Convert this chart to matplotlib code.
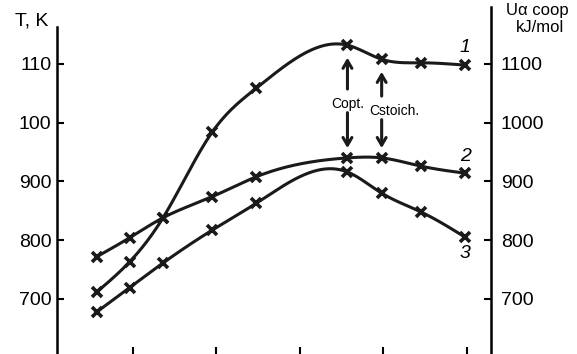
import numpy as np
import matplotlib
matplotlib.use("Agg")
import matplotlib.pyplot as plt

plt.rcParams['font.family'] = ['Liberation Sans', 'DejaVu Sans']

# composition (arbitrary units along x, ticks at 1..5)
x_vals = [0.57, 0.96, 1.36, 1.95, 2.48, 3.57, 3.98, 4.45, 4.98]
curve_1 = [712, 763, 838, 984, 1059, 1132, 1108, 1102, 1098]
curve_2 = [772, 804, 838, 874, 908, 940, 940, 926, 914]
curve_3 = [678, 719, 761, 817, 863, 916, 880, 848, 805]
curve_names = ['1', '2', '3']

x_ticks = [1, 2, 3, 4, 5]
y_ticks = [700, 800, 900, 1000, 1100]
left_labels = ['700', '800', '900', '100', '110']
right_labels = ['700', '800', '900', '1000', '1100']

# vertical markers: (index of point, label, text offset in points)
markers = [(5, 'Copt.', 0), (6, 'Cstoich.', 9)]


def natural_spline(x, y, n=300):
    """Smooth curve through the points (natural cubic spline)."""
    x = np.asarray(x, float)
    y = np.asarray(y, float)
    k = len(x)
    h = np.diff(x)
    A = np.zeros((k, k))
    b = np.zeros(k)
    A[0, 0] = A[-1, -1] = 1
    for i in range(1, k - 1):
        A[i, i - 1] = h[i - 1]
        A[i, i] = 2 * (h[i - 1] + h[i])
        A[i, i + 1] = h[i]
        b[i] = 6 * ((y[i + 1] - y[i]) / h[i] - (y[i] - y[i - 1]) / h[i - 1])
    M = np.linalg.solve(A, b)
    xs = np.linspace(x[0], x[-1], n)
    idx = np.clip(np.searchsorted(x, xs) - 1, 0, k - 2)
    x0, x1 = x[idx], x[idx + 1]
    hh = x1 - x0
    a = (x1 - xs) / hh
    c = (xs - x0) / hh
    ys = (a * y[idx] + c * y[idx + 1]
          + ((a ** 3 - a) * M[idx] + (c ** 3 - c) * M[idx + 1]) * hh ** 2 / 6)
    return xs, ys


fig = plt.figure(figsize=(5.77, 3.54), dpi=100)
ax = fig.add_axes([57 / 577, 0.0, (491 - 57) / 577, 347 / 354])

for ys in (curve_1, curve_2, curve_3):
    sx, sy = natural_spline(x_vals, ys)
    ax.plot(sx, sy, color='#1a1a1a', lw=2.2, solid_capstyle='round')
    ax.plot(x_vals, ys, linestyle='none', marker='x', ms=7, mew=2.6,
            color='#1a1a1a')

ax.set_xlim(0.09, 5.29)
ax.set_ylim(606, 1197)

for s in ['top', 'bottom']:
    ax.spines[s].set_visible(False)
for s in ['left', 'right']:
    ax.spines[s].set_linewidth(1.8)
ax.spines['left'].set_bounds(606, 1163)

ax.set_xticks(x_ticks)
ax.set_xticklabels([])
ax.tick_params(axis='x', direction='in', length=5, width=1.5)

ax.set_yticks(y_ticks)
ax.set_yticklabels(left_labels)
ax.tick_params(axis='y', direction='in', length=5, width=1.5, pad=4,
               labelsize=14)

ax2 = ax.twinx()
ax2.set_ylim(ax.get_ylim())
ax2.set_yticks(y_ticks)
ax2.set_yticklabels(right_labels)
ax2.tick_params(axis='y', direction='in', length=5, width=1.5, pad=7,
                labelsize=14)
for s in ['top', 'bottom', 'left', 'right']:
    ax2.spines[s].set_visible(False)

# curve numbers
for ys, name, dy in zip((curve_1, curve_2, curve_3), curve_names, (13, 12, -12)):
    ax.annotate(name, xy=(x_vals[-1], ys[-1]), xytext=(0, dy),
                textcoords='offset points', ha='center', va='center',
                fontsize=14, style='italic')

# Copt / Cstoich arrows
head = '->,head_length=0.55,head_width=0.32'
for i, label, dx in markers:
    xm = x_vals[i]
    mid = (curve_1[i] + curve_2[i]) / 2
    ax.annotate(label, xy=(xm, mid), xytext=(dx, -2),
                textcoords='offset points', ha='center', va='center',
                fontsize=10)
    ax.annotate('', xy=(xm, curve_1[i]), xytext=(xm, mid),
                arrowprops=dict(arrowstyle=head, lw=2.2, color='#1a1a1a',
                                shrinkA=9, shrinkB=9))
    ax.annotate('', xy=(xm, curve_2[i]), xytext=(xm, mid),
                arrowprops=dict(arrowstyle=head, lw=2.2, color='#1a1a1a',
                                shrinkA=8, shrinkB=7))

fig.text(32 / 577, 1 - 21 / 354, 'T, K', ha='center', va='center', fontsize=14)
fig.text(537 / 577, 1 - 10 / 354, 'U\u03b1 coop', ha='center', va='center',
         fontsize=12)
fig.text(540 / 577, 1 - 27 / 354, 'kJ/mol', ha='center', va='center',
         fontsize=12)

fig.savefig('out.png', dpi=100)
